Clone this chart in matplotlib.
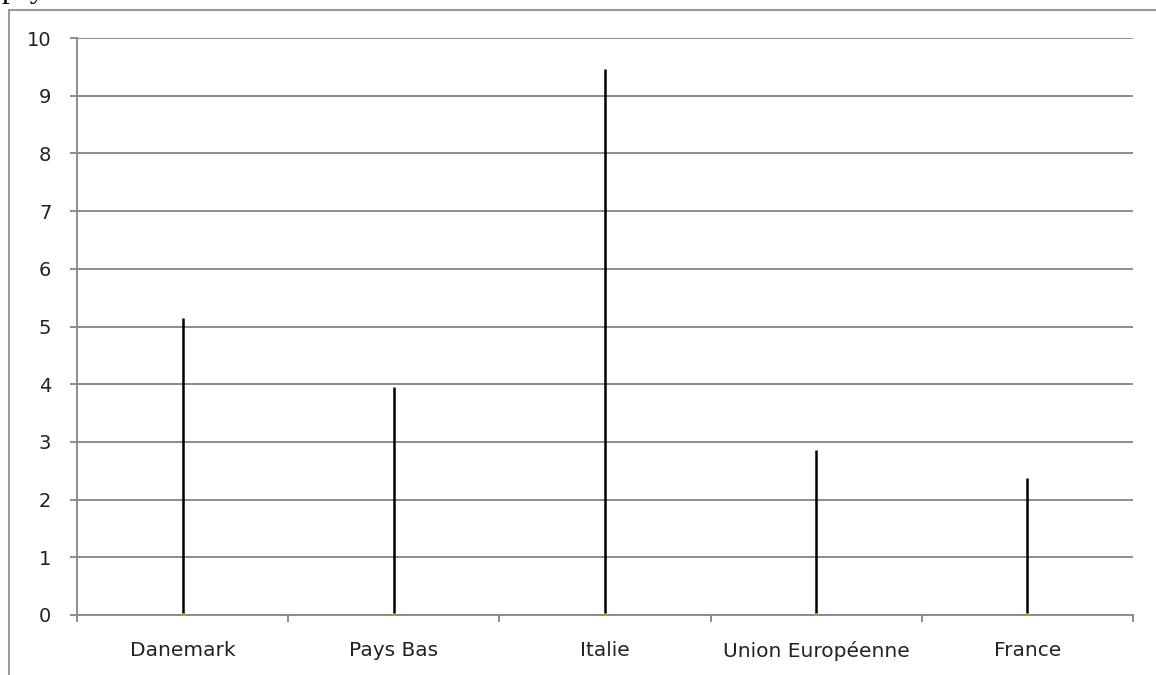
import numpy as np
import matplotlib.pyplot as plt
from matplotlib.patches import Rectangle
from matplotlib.ticker import FixedLocator

# --- Data ---
countries = ['Danemark', 'Pays Bas', 'Italie', 'Union Européenne', 'France']
values = [5.15, 3.95, 9.46, 2.86, 2.37]
y_ticks = list(range(0, 11))

grid_color = '#8c8c8c'

fig = plt.figure(figsize=(11.56, 6.75), dpi=100)
fig.patch.set_facecolor('white')

# outer frame of the chart object, cut by the page edge on the right/bottom
fig.add_artist(Rectangle((9 / 1156, -0.1), 1.2, 1 - 10 / 675 + 0.1,
                         transform=fig.transFigure, fill=False,
                         edgecolor='#9a9a9a', linewidth=1.5))
# remnant of the text line above the chart
fig.text(0.001, 1.0 + 3 / 675, 'pays', family='Liberation Serif', fontsize=22,
         va='baseline', ha='left', color='black')

ax = fig.add_axes([77 / 1156, 1 - 615 / 675, (1133 - 77) / 1156, (615 - 38) / 675])
x = np.arange(len(countries))

ax.vlines(x, 0, values, color='black', linewidth=1.8, zorder=3)
ax.scatter(x, [0] * len(x), s=6, color='#a8a050', zorder=4)

ax.set_xlim(-0.5, len(countries) - 0.5)
ax.set_ylim(0, 10)

ax.set_yticks(y_ticks)
ax.yaxis.grid(True, color=grid_color, linewidth=1.4)
ax.set_axisbelow(True)

ax.set_xticks(x)
ax.set_xticklabels(countries)
ax.xaxis.set_minor_locator(FixedLocator(np.arange(-0.5, len(countries), 1.0)))
ax.tick_params(axis='x', which='major', length=0, pad=19, labelsize=14.5, colors='#222222')
ax.tick_params(axis='x', which='minor', length=5, width=1.4, color=grid_color, direction='out')
ax.tick_params(axis='y', length=5, width=1.4, color=grid_color, pad=13.5,
               labelsize=14, labelcolor='#222222')

for s in ['top', 'right']:
    ax.spines[s].set_visible(False)
for s in ['left', 'bottom']:
    ax.spines[s].set_color(grid_color)
    ax.spines[s].set_linewidth(1.4)

fig.savefig('out.png', dpi=100)
